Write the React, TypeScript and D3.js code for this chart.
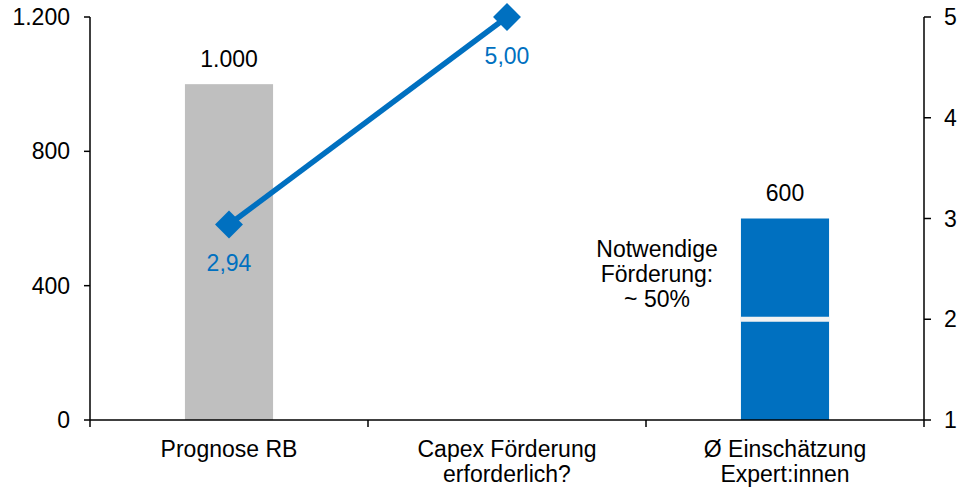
import React from "react";
import * as d3 from "d3";

const categories = ["Prognose RB", "Capex Förderung\nerforderlich?", "Ø Einschätzung\nExpert:innen"];
const barValues: (number | null)[] = [1000, null, 600];
const barColors = ["#BFBFBF", "#0070C0", "#0070C0"];
const barLabels = ["1.000", "", "600"];
const lineCats = [0, 1];
const lineValues = [2.94, 5.0];
const lineLabels = ["2,94", "5,00"];
const splitValue = 300;
const leftTicks = [0, 400, 800, 1200];
const leftTickLabels = ["0", "400", "800", "1.200"];
const rightTicks = [1, 2, 3, 4, 5];
const annotation = ["Notwendige", "Förderung:", "~ 50%"];

const W = 957, H = 488;
const left = 90, right = 924, top = 17, bottom = 420;
const BLUE = "#0070C0";
const FONT = "'Liberation Sans', Arial, sans-serif";
const FS = 23;

export default function App() {
  const x = d3.scaleBand<number>().domain(categories.map((_, i) => i)).range([left, right]).paddingInner(0).paddingOuter(0);
  const yL = d3.scaleLinear().domain([0, 1200]).range([bottom, top]);
  const yR = d3.scaleLinear().domain([1, 5]).range([bottom, top]);
  const bw = x.bandwidth() * 0.317;
  const cx = (i: number) => (x(i) as number) + x.bandwidth() / 2;
  const line = d3.line<number>().x((_, i) => cx(lineCats[i])).y((d) => yR(d));

  return (
    <svg width={W} height={H} style={{ position: "absolute", left: 0, top: 0 }} fontFamily={FONT}>
      {barValues.map((v, i) =>
        v == null ? null : (
          <g key={i}>
            <rect x={cx(i) - bw / 2} y={yL(v)} width={bw} height={yL(0) - yL(v)} fill={barColors[i]} />
            <text x={cx(i)} y={yL(v) - 17.5} textAnchor="middle" fontSize={FS} fill="#000">{barLabels[i]}</text>
          </g>
        )
      )}
      <rect x={cx(2) - bw / 2 - 0.5} y={yL(splitValue) - 2.5} width={bw + 1} height={5} fill="#F2F2F2" />
      {annotation.map((t, i) => (
        <text key={i} x={657} y={256.5 + i * 25} textAnchor="middle" fontSize={FS} fill="#000">{t}</text>
      ))}
      <path d={line(lineValues) || ""} fill="none" stroke={BLUE} strokeWidth={5.5} />
      {lineValues.map((v, i) => (
        <path key={i} d={d3.symbol().type(d3.symbolSquare).size(390)() || ""} transform={`translate(${cx(lineCats[i])},${yR(v)}) rotate(45)`} fill={BLUE} />
      ))}
      {lineValues.map((v, i) => (
        <text key={"l" + i} x={cx(lineCats[i])} y={yR(v) + 46.5} textAnchor="middle" fontSize={FS} fill={BLUE}>{lineLabels[i]}</text>
      ))}
      {/* left axis */}
      <line x1={left} x2={left} y1={top} y2={bottom} stroke="#000" strokeWidth={1.5} />
      {leftTicks.map((t, i) => (
        <g key={t}>
          <line x1={left - 6} x2={left} y1={yL(t)} y2={yL(t)} stroke="#000" strokeWidth={1.5} />
          <text x={70} y={yL(t) + 8} textAnchor="end" fontSize={FS}>{leftTickLabels[i]}</text>
        </g>
      ))}
      {/* right axis */}
      <line x1={right} x2={right} y1={top} y2={bottom + 7} stroke="#000" strokeWidth={1.5} />
      {rightTicks.map((t) => (
        <g key={t}>
          <line x1={right} x2={right + 7} y1={yR(t)} y2={yR(t)} stroke="#000" strokeWidth={1.5} />
          <text x={944} y={yR(t) + 8} textAnchor="start" fontSize={FS}>{t}</text>
        </g>
      ))}
      {/* x axis */}
      <line x1={left} x2={right} y1={bottom} y2={bottom} stroke="#000" strokeWidth={1.5} />
      {[0, 1, 2].map((i) => (
        <line key={i} x1={x(i) as number} x2={x(i) as number} y1={bottom} y2={bottom + 7} stroke="#000" strokeWidth={1.5} />
      ))}
      {categories.map((c, i) =>
        c.split("\n").map((ln, j) => (
          <text key={i + "-" + j} x={cx(i)} y={457 + j * 24.5} textAnchor="middle" fontSize={FS}>{ln}</text>
        ))
      )}
    </svg>
  );
}
